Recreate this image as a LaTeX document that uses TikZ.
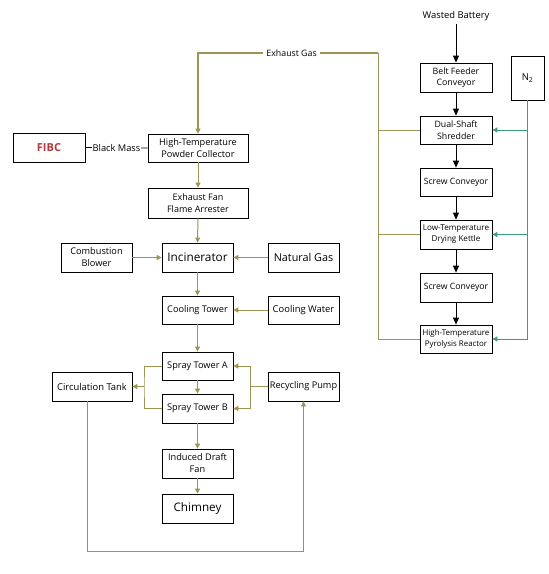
\documentclass[tikz,border=0pt]{standalone}
\usepackage{fontspec}
\setmainfont{Open Sans}
\usetikzlibrary{arrows.meta}
\definecolor{olive}{HTML}{9C9450}
\definecolor{ngreen}{HTML}{3A9E7A}
\definecolor{fibcred}{HTML}{B03A3A}
\tikzset{
  box/.style={draw, thick, minimum width=71pt, minimum height=29pt, inner sep=0.5pt, align=center, font=\fontsize{9.2}{12}\selectfont},
  rbox/.style={box, minimum width=72pt, font=\fontsize{8.1}{11}\selectfont},
  feed/.style={draw, -{Triangle[width=6pt,length=7pt]}, line width=0.8pt},
  gas/.style={draw=olive, line width=1pt, -{Triangle[width=5pt,length=5pt]}},
  gasline/.style={draw=olive, line width=0.8pt},
  ntwo/.style={draw=ngreen, line width=0.9pt, -{Triangle[width=5pt,length=5pt]}}
}
\begin{document}
\begin{tikzpicture}[x=1pt, y=-1pt]
  \useasboundingbox (0,0) rectangle (549,574);

  \node[font=\fontsize{9.4}{11}\selectfont] (battery) at (456,16) {Wasted Battery};
  \node[rbox, font=\fontsize{8.8}{11.5}\selectfont] (belt) at (456,77.5) {Belt Feeder\\Conveyor};
  \node[rbox, minimum width=33pt, minimum height=44pt, font=\fontsize{9.5}{11}\selectfont] (n2) at (527.5,78) {N\textsubscript{2}};
  \node[rbox, minimum height=28pt, font=\fontsize{8.8}{11.5}\selectfont] (shred) at (456,130) {Dual-Shaft\\Shredder};
  \node[rbox, minimum height=28pt, font=\fontsize{8.7}{11}\selectfont] (screwA) at (456,182) {Screw Conveyor};
  \node[rbox] (kettle) at (456,234.5) {Low-Temperature\\Drying Kettle};
  \node[rbox, font=\fontsize{8.7}{11}\selectfont] (screwB) at (456,287.5) {Screw Conveyor};
  \node[rbox, minimum height=28pt, font=\fontsize{7.9}{11}\selectfont] (pyro) at (456,339) {High-Temperature\\Pyrolysis Reactor};

  \node[box, minimum width=100pt, minimum height=28pt] (hpc) at (198,148) {High-Temperature\\Powder Collector};
  \node[box, minimum width=72pt, text=fibcred, font=\fontsize{11}{13}\selectfont\bfseries] (fibc) at (49,147.5) {FIBC};
  \node[box, minimum width=100pt, minimum height=30pt, font=\fontsize{9}{12}\selectfont] (fan) at (198,203) {Exhaust Fan\\Flame Arrester};
  \node[box, font=\fontsize{11.8}{14}\selectfont] (incin) at (197.5,257.5) {Incinerator};
  \node[box] (blower) at (96.5,257.5) {Combustion\\Blower};
  \node[box, font=\fontsize{10.8}{13}\selectfont] (natgas) at (303.5,257.5) {Natural Gas};
  \node[box, minimum height=28pt] (cooling) at (197.5,310) {Cooling Tower};
  \node[box, minimum height=28pt, font=\fontsize{9.4}{12}\selectfont] (water) at (303.5,310) {Cooling Water};
  \node[box, minimum height=28pt] (sprayA) at (197.5,366) {Spray Tower A};
  \node[box] (sprayB) at (197.5,408.5) {Spray Tower B};
  \node[box, minimum width=80pt, font=\fontsize{9.4}{12}\selectfont] (tank) at (92,386.5) {Circulation Tank};
  \node[box, minimum width=71pt] (pump) at (303.5,386.5) {Recycling Pump};
  \node[box] (idf) at (197.5,463.5) {Induced Draft\\Fan};
  \node[box, font=\fontsize{11.7}{14}\selectfont] (chimney) at (197.5,508.5) {Chimney};

  \coordinate (gastop) at (378,53);
  \coordinate (sprayL) at (144,386.5);
  \coordinate (sprayR) at (250,386.5);
  \coordinate (loopB) at (87,551);

  \draw[feed] (battery) -- (belt);
  \draw[feed] (belt) -- (shred);
  \draw[feed] (shred) -- (screwA);
  \draw[feed] (screwA) -- (kettle);
  \draw[feed] (kettle) -- (screwB);
  \draw[feed] (screwB) -- (pyro);

  \draw[ntwo] (n2.south) |- (pyro.east);
  \draw[ntwo] (n2.south |- shred.east) -- (shred.east);
  \draw[ntwo] (n2.south |- kettle.east) -- (kettle.east);

  \draw[gasline] (pyro.west) -| (gastop);
  \draw[gasline] (shred.west) -- (shred.west -| gastop);
  \draw[gasline] (kettle.west) -- (kettle.west -| gastop);
  \draw[gas, line width=1.4pt] (gastop) -- node[fill=white, font=\fontsize{8.8}{10}\selectfont, inner sep=3pt, pos=0.48] {Exhaust Gas} (gastop -| hpc.north) -- (hpc.north);

  \draw[thick] (fibc.east) -- node[fill=white, inner sep=1pt, font=\fontsize{9.3}{10}\selectfont] {Black Mass} (hpc.west);

  \draw[gas] (hpc) -- (fan);
  \draw[gas] (fan) -- (incin);
  \draw[gas] (blower) -- (incin);
  \draw[gas] (natgas) -- (incin);
  \draw[gas] (incin) -- (cooling);
  \draw[gas] (water) -- (cooling);
  \draw[gas] (cooling) -- (sprayA);
  \draw[gas] (sprayA) -- (sprayB);
  \draw[gas] (sprayB) -- (idf);
  \draw[gas] (idf) -- (chimney);

  \draw[gasline] (sprayA.west) -| (sprayL) |- (sprayB.west);
  \draw[gas] (sprayL) -- (tank.east);
  \draw[gasline] (pump.west) -- (sprayR);
  \draw[gas] (sprayR) |- (sprayA.east);
  \draw[gas] (sprayR) |- (sprayB.east);
  \draw[gas, line width=0.8pt] (tank.south -| loopB) -- (loopB) -| (pump.south);
\end{tikzpicture}
\end{document}
